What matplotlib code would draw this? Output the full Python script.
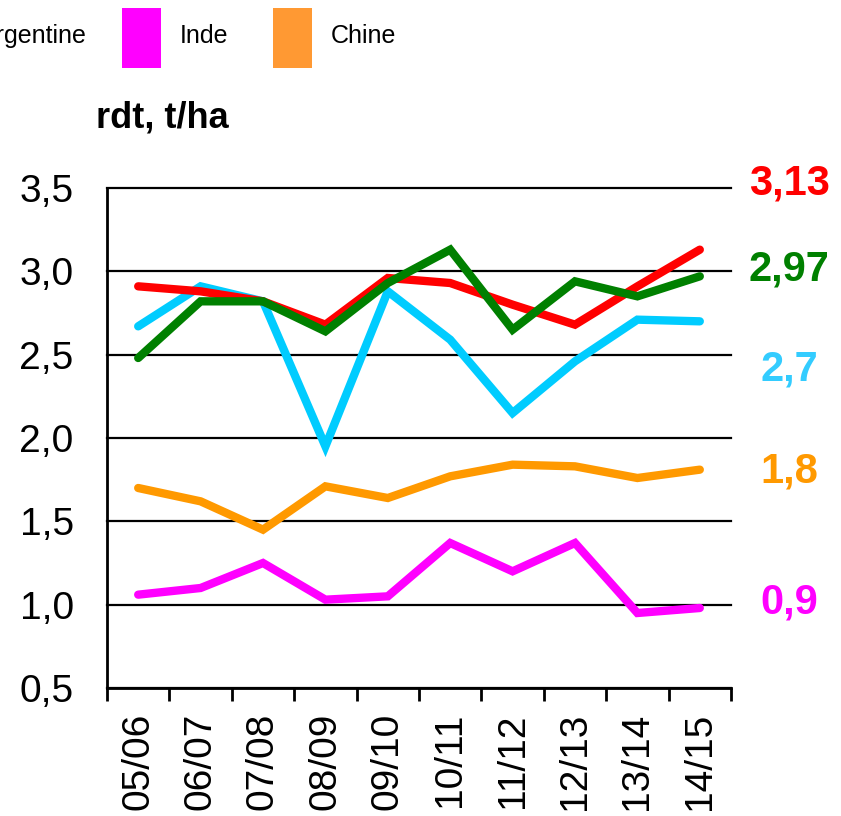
import matplotlib
matplotlib.use("Agg")
import matplotlib.pyplot as plt
from matplotlib.patches import Rectangle

plt.rcParams['font.family'] = ['Liberation Sans', 'DejaVu Sans']

seasons = ["05/06", "06/07", "07/08", "08/09", "09/10", "10/11", "11/12", "12/13", "13/14", "14/15"]
usa = [2.91, 2.88, 2.82, 2.68, 2.96, 2.93, 2.80, 2.68, 2.91, 3.13]
bresil = [2.48, 2.82, 2.82, 2.64, 2.93, 3.13, 2.65, 2.94, 2.85, 2.97]
argentine = [2.67, 2.91, 2.82, 1.95, 2.88, 2.59, 2.15, 2.46, 2.71, 2.70]
chine = [1.70, 1.62, 1.45, 1.71, 1.64, 1.77, 1.84, 1.83, 1.76, 1.81]
inde = [1.06, 1.10, 1.25, 1.03, 1.05, 1.37, 1.20, 1.37, 0.95, 0.98]
end_labels = ["3,13", "2,97", "2,7", "1,8", "0,9"]
end_label_y = [3.53, 3.01, 2.41, 1.80, 1.01]
yticks = [0.5, 1.0, 1.5, 2.0, 2.5, 3.0, 3.5]
ytick_labels = ["0,5", "1,0", "1,5", "2,0", "2,5", "3,0", "3,5"]
legend_names = ["Argentine", "Inde", "Chine"]

W, H = 841, 816
fig = plt.figure(figsize=(W / 100, H / 100), dpi=100)
ax = fig.add_axes([107 / W, 1 - 688 / H, 624 / W, 500 / H])

series = [usa, bresil, argentine, chine, inde]
line_colors = ["#FF0000", "#008000", "#00CCFF", "#FF9900", "#FF00FF"]
label_colors = ["#FF0000", "#008000", "#33CCFF", "#FF9900", "#FF00FF"]
x = list(range(len(seasons)))
for i in [3, 4, 2, 0, 1]:
    ax.plot(x, series[i], color=line_colors[i], lw=6, solid_capstyle='round',
            solid_joinstyle='miter', zorder=3)

ax.set_xlim(-0.5, len(seasons) - 0.5)
ax.set_ylim(0.5, 3.5)
ax.set_yticks(yticks)
ax.set_yticklabels(ytick_labels, fontsize=28)
ax.tick_params(axis='y', length=0, pad=24)
ax.set_xticks(x)
ax.set_xticklabels(seasons, rotation=90, fontsize=28)
ax.tick_params(axis='x', which='major', length=0, pad=18)
ax.set_xticks([v - 0.5 for v in x] + [len(seasons) - 0.5], minor=True)
ax.tick_params(axis='x', which='minor', length=9, width=2, direction='out')

for y in yticks:
    ax.axhline(y, color='black', lw=1.6, zorder=1, clip_on=False)
for s in ['top', 'right']:
    ax.spines[s].set_visible(False)
ax.spines['left'].set_linewidth(2)
ax.spines['bottom'].set_linewidth(2)

for lab, ly, c in zip(end_labels, end_label_y, label_colors):
    ax.text(len(seasons) - 0.5 + 0.93, ly, lab, color=c, fontsize=30, fontweight='bold',
            ha='center', va='center', clip_on=False)

fig.text(96 / W, 1 - 118 / H, "rdt, t/ha", fontsize=26, fontweight='bold', ha='left', va='center')

# legend (partially cut at the left edge of the picture)
leg_colors = ["#00CCFF", "#FF00FF", "#FF9933"]
patch_x = [-150, 122, 273]
for name, px, c in zip(legend_names, patch_x, leg_colors):
    fig.add_artist(Rectangle((px / W, 1 - 68 / H), 39 / W, 60 / H, transform=fig.transFigure,
                             facecolor=c, edgecolor='none'))
    if name == "Argentine":
        fig.text(87 / W, 1 - 36 / H, name, fontsize=18, ha='right', va='center')
    else:
        fig.text((px + 58) / W, 1 - 36 / H, name, fontsize=18, ha='left', va='center')

fig.savefig("out.png", dpi=100)
